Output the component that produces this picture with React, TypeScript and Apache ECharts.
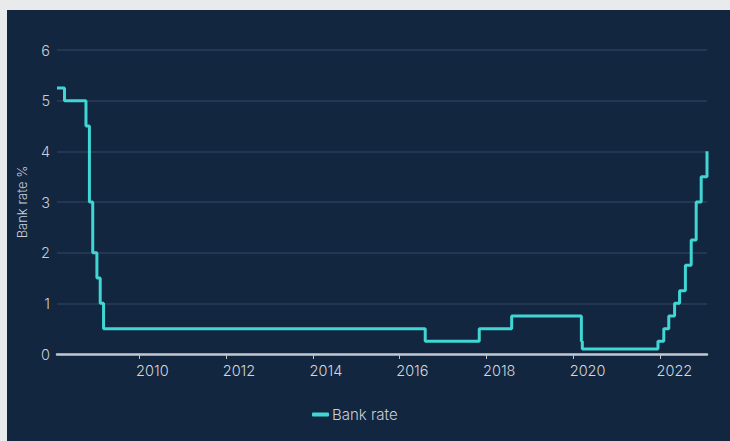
import React, { useEffect, useRef } from "react";
import * as echarts from "echarts";

const dates: string[] = [
  "2008-02-07", "2008-04-10", "2008-10-08", "2008-11-06", "2008-12-04",
  "2009-01-08", "2009-02-05", "2009-03-05", "2016-08-04", "2017-11-02",
  "2018-08-02", "2020-03-11", "2020-03-19", "2021-12-16", "2022-02-03",
  "2022-03-17", "2022-05-05", "2022-06-16", "2022-08-04", "2022-09-22",
  "2022-11-03", "2022-12-15", "2023-02-02",
];
const rates: number[] = [
  5.25, 5.0, 4.5, 3.0, 2.0, 1.5, 1.0, 0.5, 0.25, 0.5, 0.75, 0.25, 0.1,
  0.25, 0.5, 0.75, 1.0, 1.25, 1.75, 2.25, 3.0, 3.5, 4.0,
];
const tickYears: number[] = [2010, 2012, 2014, 2016, 2018, 2020, 2022];
const seriesName = "Bank rate";
const yAxisName = "Bank rate %";

export default function App() {
  const ref = useRef<HTMLDivElement>(null);
  useEffect(() => {
    if (!ref.current) return;
    const chart = echarts.init(ref.current, null, { renderer: "svg" });
    const DAY = 24 * 3600 * 1000;
    const ts = (d: string) => Date.parse(d + "T00:00:00Z");
    const data = dates.map((d, i) => [ts(d), rates[i]]);
    const tickValues = tickYears.map((y) => Date.UTC(y, 0, 1));
    // labels start slightly before their tick (left-aligned text)
    const labelValues = tickValues.map((v) => v - 28 * DAY);
    chart.setOption({
      animation: false,
      backgroundColor: "#13263f",
      textStyle: { fontFamily: "Inter", fontWeight: 300 },
      grid: { left: 46, right: 23, top: 40, bottom: 87 },
      legend: {
        bottom: 14,
        left: 300,
        data: [seriesName],
        icon: "roundRect",
        itemWidth: 17,
        itemHeight: 4,
        itemGap: 10,
        textStyle: { color: "#c9ced6", fontSize: 15, fontFamily: "Inter", fontWeight: 300, padding: [0, 0, 0, -2] },
      },
      xAxis: {
        type: "value",
        min: ts(dates[0]),
        max: ts(dates[dates.length - 1]),
        axisLine: { show: true, lineStyle: { color: "#c3c8d0", width: 2.5 } },
        axisTick: { show: true, length: 5, customValues: tickValues, lineStyle: { color: "#c3c8d0", width: 1 } },
        splitLine: { show: false },
        axisLabel: {
          color: "#d3d7dd",
          fontSize: 14.5,
          fontWeight: 300,
          margin: 9,
          align: "left",
          customValues: labelValues,
          formatter: (v: number) => String(new Date(v + 60 * DAY).getUTCFullYear()),
        },
      },
      yAxis: {
        type: "value",
        min: 0,
        max: 6,
        interval: 1,
        name: yAxisName,
        nameLocation: "middle",
        nameGap: 29,
        nameTextStyle: { color: "#c9ced6", fontSize: 13, fontWeight: 300 },
        axisLine: { show: false },
        axisTick: { show: false },
        axisLabel: { color: "#c9ced6", fontSize: 14.5, fontWeight: 300, margin: 7 },
        splitLine: { lineStyle: { color: "#2a3e5a", width: 1.5 } },
      },
      series: [
        {
          name: seriesName,
          type: "line",
          step: "end",
          data,
          showSymbol: false,
          lineStyle: { color: "#40d6d4", width: 3 },
          itemStyle: { color: "#40d6d4" },
        },
      ],
    });
    return () => chart.dispose();
  }, []);
  return (
    <div style={{ position: "fixed", inset: 0, background: "#e9eaec" }}>
      <div
        ref={ref}
        style={{ position: "absolute", left: 7, top: 10, width: 723, height: 431 }}
      />
    </div>
  );
}
